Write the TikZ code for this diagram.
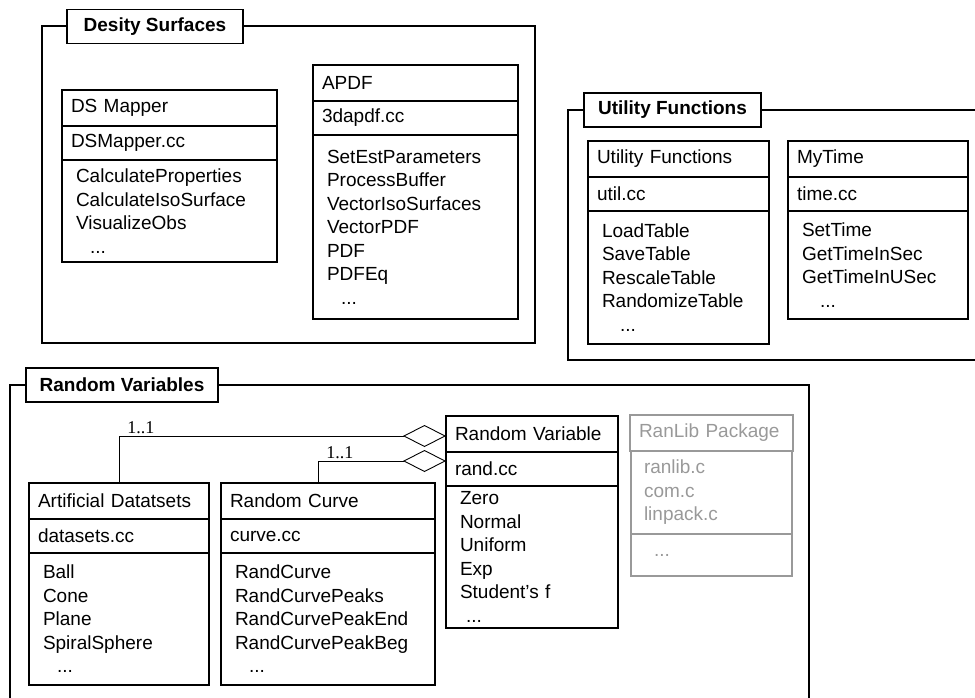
\documentclass[tikz,border=0pt]{standalone}
\usepackage{fontspec}
\setmainfont{Liberation Sans}
\newfontfamily\mulfont{Liberation Serif}
\usetikzlibrary{positioning,arrows.meta}
\definecolor{libgray}{gray}{0.6}

\begin{document}
\begin{tikzpicture}[
		x=1pt, y=-1pt
		,font=\fontsize{19}{23.5}\selectfont
		,pkg/.style={line width=2pt}
		,tab/.style={draw, fill=white, line width=1.6pt, minimum height=34pt, font=\fontsize{19}{23.5}\selectfont\bfseries}
		,row/.style={draw, line width=1.2pt, outer sep=0pt, inner xsep=9pt, text width=#1-18pt, align=left}
		,head/.style={row=#1, minimum height=36pt, anchor=north west}
		,src/.style={row=#1, minimum height=34pt}
		,ops/.style={row=#1, inner xsep=14pt, text width=#1-28pt}
		,lib/.style={draw=libgray, text=libgray}
		,agg/.style={line width=.9pt, -{Diamond[open, length=43pt, width=22pt]}}
		,mult/.style={font=\mulfont\fontsize{18}{20}\selectfont, anchor=south west, inner sep=1pt, xshift=7pt, yshift=1pt}
	]
		\useasboundingbox (0,0) rectangle (975,698);

		% Desity Surfaces
		\node[tab, minimum width=176pt] (dstab) at (155,26.5) {Desity Surfaces};
		\draw[pkg] (dstab.west) -- (42,26.5) -- (42,343) -- (535,343) -- (535,26.5) -- (dstab.east);

		\node[head=215pt] (dsm) at (62,90) {DS Mapper};
		\node[src=215pt, below=0pt of dsm] (dsmsrc) {DSMapper.cc};
		\node[ops=215pt, minimum height=102pt, below=0pt of dsmsrc] (dsmops) {CalculateProperties\\CalculateIsoSurface\\VisualizeObs\\\hspace*{14pt}...};

		\node[head=205pt] (apdf) at (313,65) {APDF};
		\node[src=205pt, below=0pt of apdf] (apdfsrc) {3dapdf.cc};
		\node[ops=205pt, minimum height=184pt, below=0pt of apdfsrc] (apdfops) {SetEstParameters\\ProcessBuffer\\VectorIsoSurfaces\\VectorPDF\\PDF\\PDFEq\\\hspace*{14pt}...};

		% Utility Functions
		\node[tab, minimum width=177pt] (uftab) at (672.5,110) {Utility Functions};
		\draw[pkg] (uftab.west) -- (568,110) -- (568,360) -- (980,360);
		\draw[pkg] (uftab.east) -- (980,110);

		\node[head=181pt] (util) at (588,141) {Utility Functions};
		\node[src=181pt, below=0pt of util] (utilsrc) {util.cc};
		\node[ops=181pt, minimum height=133pt, below=0pt of utilsrc] (utilops) {LoadTable\\SaveTable\\RescaleTable\\RandomizeTable\\\hspace*{18pt}...};

		\node[head=180pt] (mytime) at (788,141) {MyTime};
		\node[src=180pt, below=0pt of mytime] (mytimesrc) {time.cc};
		\node[ops=180pt, minimum height=108pt, below=0pt of mytimesrc] (mytimeops) {SetTime\\GetTimeInSec\\GetTimeInUSec\\\hspace*{18pt}...};

		% Random Variables
		\node[tab, minimum width=192pt] (rvtab) at (122,385) {Random Variables};
		\draw[pkg] (rvtab.west) -- (10,385) -- (10,705);
		\draw[pkg] (rvtab.east) -- (809,385) -- (809,705);

		\node[head=172pt] (rv) at (446,416) {Random Variable};
		\node[src=172pt, below=0pt of rv] (rvsrc) {rand.cc};
		\node[ops=172pt, minimum height=142pt, below=0pt of rvsrc] (rvops) {Zero\\Normal\\Uniform\\Exp\\Student's f\\\hspace*{6pt}...};

		\node[head=163pt, lib] (ranlib) at (630,415) {RanLib Package};
		\node[ops=163pt, lib, inner xsep=13pt, minimum height=83pt, below=0pt of ranlib] (ranlibsrc) {ranlib.c\\com.c\\linpack.c};
		\node[ops=163pt, lib, inner xsep=13pt, minimum height=42pt, below=0pt of ranlibsrc] (ranlibops) {\hspace*{10pt}...};

		\node[head=180pt] (ad) at (29,483) {Artificial Datatsets};
		\node[src=180pt, below=0pt of ad] (adsrc) {datasets.cc};
		\node[ops=180pt, minimum height=132pt, below=0pt of adsrc] (adops) {Ball\\Cone\\Plane\\SpiralSphere\\\hspace*{14pt}...};

		\node[head=214pt] (rc) at (221,483) {Random Curve};
		\node[src=214pt, below=0pt of rc] (rcsrc) {curve.cc};
		\node[ops=214pt, minimum height=132pt, below=0pt of rcsrc] (rcops) {RandCurve\\RandCurvePeaks\\RandCurvePeakEnd\\RandCurvePeakBeg\\\hspace*{14pt}...};

		\draw[agg] (ad.north) |- node[mult, pos=.5] {1..1} ([yshift=-2pt]rv.west);
		\draw[agg] ([xshift=-10pt]rc.north) |- node[mult, pos=.5] {1..1} ([yshift=8pt]rvsrc.west);
	\end{tikzpicture}
\end{document}
